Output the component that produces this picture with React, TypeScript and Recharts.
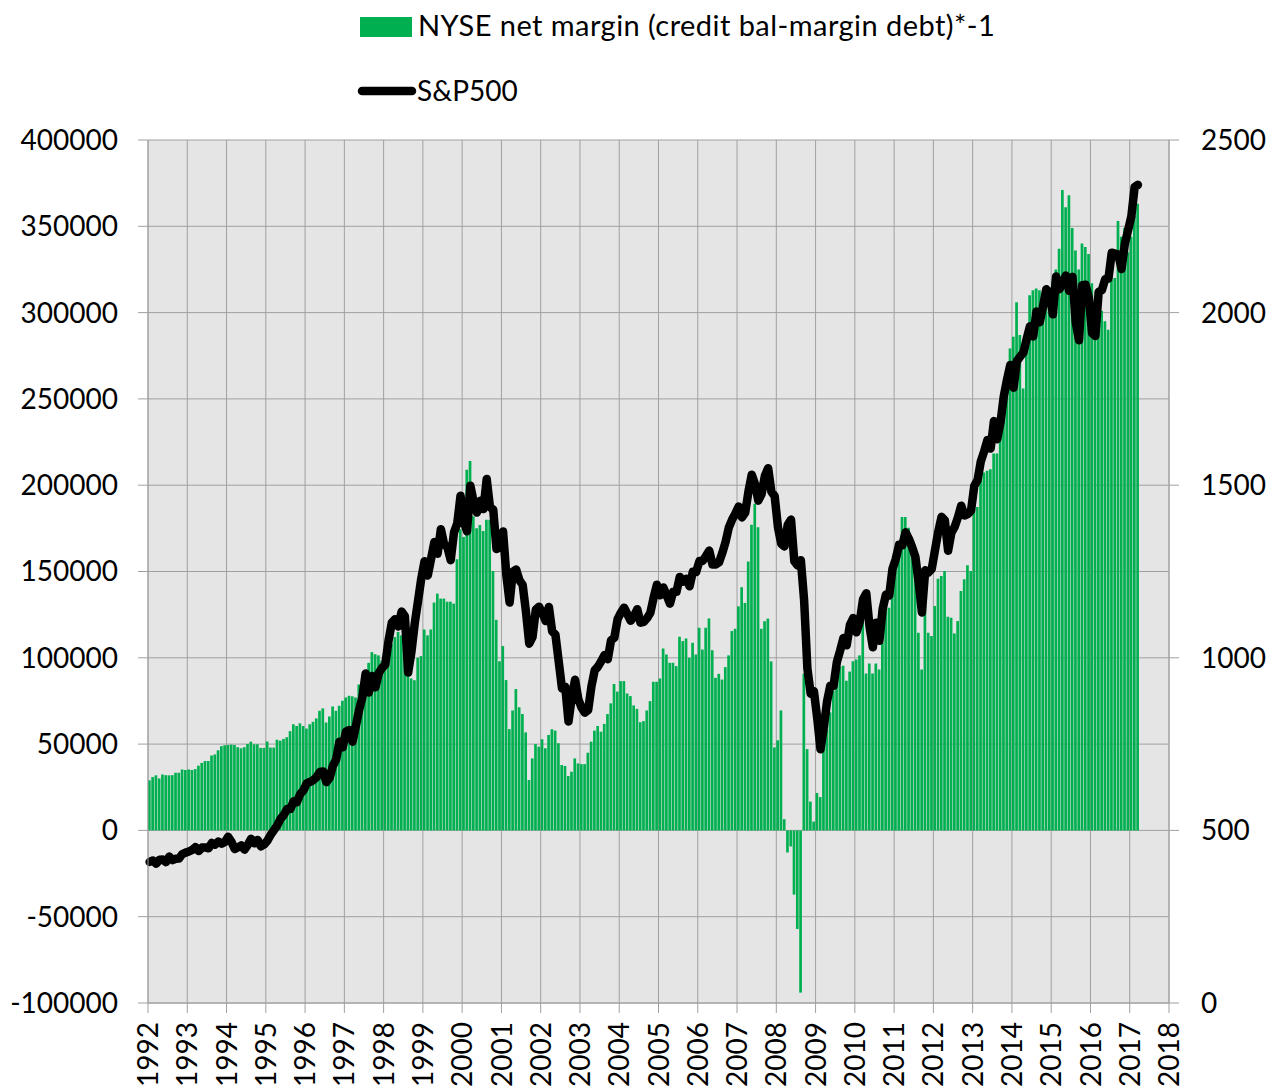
import { ComposedChart, Bar, Line, XAxis, YAxis, CartesianGrid } from 'recharts'

const FONT = 'Lato, "Open Sans", sans-serif'

// NYSE net margin (credit bal - margin debt) * -1, monthly from Jan 1992
const netMargin: number[] = [
  // 1992
  29000, 30900, 31900, 30100, 32400, 32000, 31900, 32000, 33400, 33400, 35300, 35000,
  // 1993
  35300, 35000, 35500, 37500, 39100, 40200, 40200, 43400, 44000, 46400, 48800, 49300,
  // 1994
  49500, 49700, 49500, 48200, 47600, 48200, 50100, 51400, 49900, 49900, 47800, 47800,
  // 1995
  51500, 48000, 48000, 52500, 52000, 53000, 54000, 57500, 61500, 60500, 62000, 60500,
  // 1996
  59000, 61500, 62900, 64900, 69300, 70700, 62500, 66000, 71800, 69300, 72200, 75100,
  // 1997
  77000, 78000, 77700, 77000, 84500, 85400, 85800, 97100, 103300, 102100, 101400, 98400,
  // 1998
  100000, 103000, 108000, 112000, 115000, 113000, 108000, 95000, 88000, 87000, 100000, 101000,
  // 1999
  116400, 113000, 116400, 132000, 137200, 134300, 134300, 132500, 132500, 131400, 157100, 174500,
  // 2000
  170000, 209000, 214000, 182000, 175000, 177000, 173500, 180000, 180000, 150300, 122000, 98000,
  // 2001
  106800, 87100, 58700, 69400, 81900, 71300, 67400, 56800, 29200, 41700, 50000, 48500,
  // 2002
  52800, 47600, 55300, 58600, 57800, 50500, 37900, 37300, 31500, 34000, 41700, 38800,
  // 2003
  38400, 38400, 45000, 51400, 57800, 60500, 57200, 61700, 67400, 73600, 84800, 80400,
  // 2004
  86500, 86500, 79300, 77800, 72400, 70400, 62700, 63300, 69500, 74900, 86100, 86100,
  // 2005
  88000, 105400, 101900, 97100, 97100, 95200, 112200, 109700, 111200, 100000, 108700, 101900,
  // 2006
  117400, 104800, 117400, 122800, 104400, 88400, 90700, 87400, 94600, 101400, 115500, 116800,
  // 2007
  129800, 140900, 131800, 155800, 177100, 189300, 175700, 116800, 121200, 122700, 97900, 48100,
  // 2008
  52200, 69500, 6500, -12800, -9300, -37200, -57100, -94000, 90800, 47100, 16700, 5100,
  // 2009
  21700, 19300, 50600, 58300, 68400, 81000, 86700, 94800, 95400, 86700, 92000, 98000,
  // 2010
  99000, 101400, 122000, 90900, 96700, 90900, 96700, 93200, 108700, 131500, 129000, 153200,
  // 2011
  157000, 165000, 181600, 181600, 175400, 164800, 152000, 114500, 93200, 130000, 114500, 112600,
  // 2012
  130000, 145800, 147400, 150300, 123800, 123200, 114100, 121300, 138700, 145500, 153600, 150300,
  // 2013
  186400, 187400, 207300, 207300, 208300, 209300, 218300, 218300, 232000, 245200, 257200, 279200,
  // 2014
  286000, 306000, 287000, 256000, 291000, 310000, 313000, 314000, 313000, 301000, 305000, 300000,
  // 2015
  318000, 325000, 337000, 371000, 361000, 368000, 349000, 336000, 325000, 340000, 338000, 334000,
  // 2016
  317000, 307000, 305000, 301000, 295000, 290000, 319000, 320000, 353000, 344000, 349000, 335000,
  // 2017
  344000, 356000, 363000,
]

// S&P500 monthly
const sp500: number[] = [
  // 1992
  408.8, 412.7, 403.7, 414.9, 415.4, 408.1, 424.2, 414.0, 417.8, 418.7, 431.4, 435.7,
  // 1993
  438.8, 443.4, 451.7, 440.2, 450.2, 450.5, 448.1, 463.6, 458.9, 467.8, 461.8, 466.5,
  // 1994
  481.6, 467.1, 445.8, 450.9, 456.5, 444.3, 458.3, 475.5, 462.7, 472.4, 453.7, 459.3,
  // 1995
  470.4, 487.4, 500.7, 514.7, 533.4, 544.8, 562.1, 561.9, 584.4, 581.5, 605.4, 615.9,
  // 1996
  636.0, 640.4, 645.5, 654.2, 669.1, 670.6, 639.9, 652.0, 687.3, 705.3, 757.0, 740.7,
  // 1997
  786.2, 790.8, 757.1, 801.3, 848.3, 885.1, 954.3, 899.5, 947.3, 914.6, 955.4, 970.4,
  // 1998
  980.3, 1049.3, 1101.8, 1111.8, 1090.8, 1133.8, 1120.7, 957.3, 1017.0, 1098.7, 1163.6, 1229.2,
  // 1999
  1279.6, 1238.3, 1286.4, 1335.2, 1301.8, 1372.7, 1328.7, 1320.4, 1282.7, 1362.9, 1388.9, 1469.3,
  // 2000
  1394.5, 1366.4, 1498.6, 1452.4, 1420.6, 1454.6, 1430.8, 1517.7, 1436.5, 1429.4, 1315.0, 1320.3,
  // 2001
  1366.0, 1239.9, 1160.3, 1249.5, 1255.8, 1224.4, 1211.2, 1133.6, 1040.9, 1059.8, 1139.5, 1148.1,
  // 2002
  1130.2, 1106.7, 1147.4, 1076.9, 1067.1, 989.8, 911.6, 916.1, 815.3, 885.8, 936.3, 879.8,
  // 2003
  855.7, 841.2, 848.2, 916.9, 963.6, 974.5, 990.3, 1008.0, 996.0, 1050.7, 1058.2, 1111.9,
  // 2004
  1131.1, 1144.9, 1126.2, 1107.3, 1120.7, 1140.8, 1101.7, 1104.2, 1114.6, 1130.2, 1173.8, 1211.9,
  // 2005
  1181.3, 1203.6, 1180.6, 1156.9, 1191.5, 1191.3, 1234.2, 1220.3, 1228.8, 1207.0, 1249.5, 1248.3,
  // 2006
  1280.1, 1280.7, 1294.9, 1310.6, 1270.1, 1270.2, 1276.7, 1303.8, 1335.9, 1377.9, 1400.6, 1418.3,
  // 2007
  1438.2, 1406.8, 1420.9, 1482.4, 1530.6, 1503.4, 1455.3, 1474.0, 1526.8, 1549.4, 1481.1, 1468.4,
  // 2008
  1378.6, 1330.6, 1322.7, 1385.6, 1400.4, 1280.0, 1267.4, 1282.8, 1166.4, 968.8, 896.2, 903.3,
  // 2009
  825.9, 735.1, 797.9, 872.8, 919.1, 919.3, 987.5, 1020.6, 1057.1, 1036.2, 1095.6, 1115.1,
  // 2010
  1073.9, 1104.5, 1169.4, 1186.7, 1089.4, 1030.7, 1101.6, 1049.3, 1141.2, 1183.3, 1180.6, 1257.6,
  // 2011
  1286.1, 1327.2, 1325.8, 1363.6, 1345.2, 1320.6, 1292.3, 1218.9, 1131.4, 1253.3, 1247.0, 1257.6,
  // 2012
  1312.4, 1365.7, 1408.5, 1397.9, 1310.3, 1362.2, 1379.3, 1406.6, 1440.7, 1412.2, 1416.2, 1426.2,
  // 2013
  1498.1, 1514.7, 1569.2, 1597.6, 1630.7, 1606.3, 1685.7, 1633.0, 1681.6, 1756.5, 1805.8, 1848.4,
  // 2014
  1782.6, 1859.5, 1872.3, 1884.0, 1923.6, 1960.2, 1930.7, 2003.4, 1972.3, 2018.1, 2067.6, 2058.9,
  // 2015
  1995.0, 2104.5, 2067.9, 2085.5, 2107.4, 2063.1, 2103.8, 1972.2, 1920.0, 2079.4, 2080.4, 2043.9,
  // 2016
  1940.2, 1932.2, 2059.7, 2065.3, 2097.0, 2098.9, 2173.6, 2171.0, 2168.3, 2126.2, 2198.8, 2238.8,
  // 2017
  2278.9, 2363.6, 2370.0,
]

const startYear = 1992
const yearTicks = [
  1992, 1993, 1994, 1995, 1996, 1997, 1998, 1999, 2000, 2001, 2002, 2003, 2004,
  2005, 2006, 2007, 2008, 2009, 2010, 2011, 2012, 2013, 2014, 2015, 2016, 2017, 2018,
]
const leftTicks = [-100000, -50000, 0, 50000, 100000, 150000, 200000, 250000, 300000, 350000, 400000]
const rightTicks = [0, 500, 1000, 1500, 2000, 2500]

const data = netMargin.map((v, i) => ({
  t: startYear + (i + 0.5) / 12,
  margin: v,
  sp: sp500[i],
}))

function YearTick(props: any) {
  const { x, y, payload } = props
  return (
    <text
      x={x}
      y={y}
      transform={`rotate(-90, ${x}, ${y})`}
      textAnchor='end'
      dy='0.36em'
      fill='#000'
      fontSize={28}
      fontFamily={FONT}
    >
      {payload.value}
    </text>
  )
}

export default function App() {
  return (
    <div style={{ position: 'absolute', left: 0, top: 0, width: 1266, height: 1088, background: '#fff', fontFamily: FONT }}>
      <svg width={1266} height={120} style={{ position: 'absolute', left: 0, top: 0 }}>
        <rect x={360} y={17} width={52} height={20} fill='#00b050' />
        <text x={418} y={36} fontSize={29} letterSpacing={0.45} fontFamily={FONT} fill='#000'>
          NYSE net margin (credit bal-margin debt)*-1
        </text>
        <line x1={362} y1={91} x2={412} y2={91} stroke='#000' strokeWidth={8.5} strokeLinecap='round' />
        <text x={417} y={101} fontSize={28} fontFamily={FONT} fill='#000'>
          S&amp;P500
        </text>
      </svg>

      <ComposedChart
        width={1266}
        height={1088}
        data={data}
        margin={{ top: 140, right: 0, bottom: 0, left: 0 }}
      >
        <CartesianGrid xAxisId='x' yAxisId='left' fill='#e5e5e5' stroke='#a0a0a0' />
        <XAxis
          xAxisId='x'
          dataKey='t'
          type='number'
          domain={[1992, 2018]}
          ticks={yearTicks}
          interval={0}
          height={85}
          tickSize={10}
          tickMargin={9}
          stroke='#a0a0a0'
          tick={<YearTick />}
        />
        <YAxis
          yAxisId='left'
          orientation='left'
          width={148}
          domain={[-100000, 400000]}
          ticks={leftTicks}
          interval={0}
          tickSize={10}
          tickMargin={20}
          stroke='#a0a0a0'
          tick={{ fill: '#000', fontSize: 28, fontFamily: FONT }}
        />
        <YAxis
          yAxisId='right'
          orientation='right'
          width={97}
          domain={[0, 2500]}
          ticks={rightTicks}
          interval={0}
          tickSize={10}
          tickMargin={22}
          stroke='#a0a0a0'
          tick={{ fill: '#000', fontSize: 28, fontFamily: FONT }}
        />
        <Bar
          xAxisId='x'
          yAxisId='left'
          dataKey='margin'
          fill='#00b050'
          barSize={2.7}
          isAnimationActive={false}
        />
        <Line
          xAxisId='x'
          yAxisId='right'
          type='linear'
          dataKey='sp'
          stroke='#000'
          strokeWidth={8.5}
          strokeLinejoin='round'
          strokeLinecap='round'
          dot={false}
          isAnimationActive={false}
        />
      </ComposedChart>
    </div>
  )
}
